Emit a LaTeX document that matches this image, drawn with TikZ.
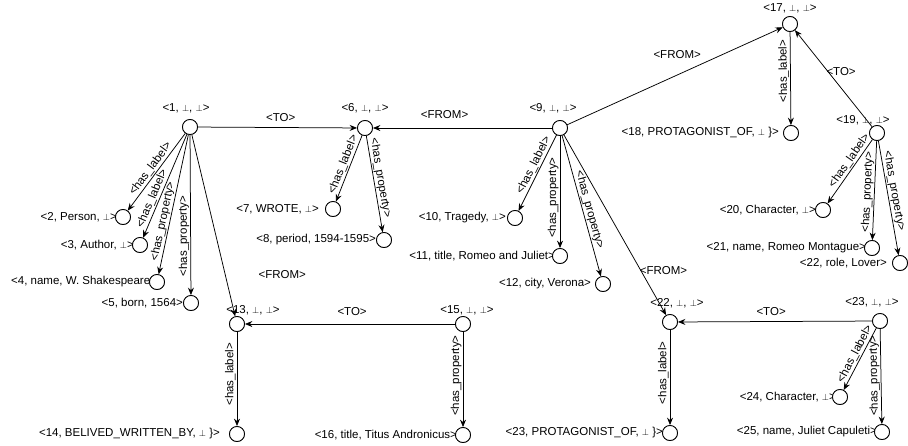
\documentclass[tikz,border=0pt]{standalone}
\usepackage{fontspec}
\setmainfont{Liberation Sans}
\usetikzlibrary{arrows.meta}
\newcommand{\bperp}{{\fontsize{9}{9}\selectfont$\perp$}}
\begin{document}
\begin{tikzpicture}[x=1pt,y=-1pt,
  font=\fontsize{11.5}{13}\selectfont,
  v/.style={circle, draw, fill=white, minimum size=15pt, inner sep=0pt, line width=0.8pt},
  tl/.style={inner sep=1pt},
  tip/.tip={Stealth[length=7.5pt,width=6pt,inset=2.5pt]},
  e/.style={-tip, line width=0.75pt},
  re/.style={tip-, line width=0.75pt},
  el/.style={sloped, allow upside down, above, inner sep=1pt},
  pl/.style={inner sep=1pt}
]
\useasboundingbox (0,0) rectangle (908,445);

% hub nodes
\node[v, label={[tl,xshift=-4pt,label distance=5pt]above:{<1, \bperp, \bperp>}}] (n1) at (190,127) {};
\node[v, label={[tl,xshift=0pt,label distance=6pt]above:{<6, \bperp, \bperp>}}] (n6) at (365,128) {};
\node[v, label={[tl,xshift=-7pt,label distance=5.5pt]above:{<9, \bperp, \bperp>}}] (n9) at (560,128) {};
\node[v, label={[tl,xshift=16pt,label distance=0pt]above:{<13, \bperp, \bperp>}}] (n13) at (237,324) {};
\node[v, label={[tl,xshift=4pt,label distance=0pt]above:{<15, \bperp, \bperp>}}] (n15) at (463,324) {};
\node[v, label={[tl,xshift=0pt,label distance=1.5pt]above:{<17, \bperp, \bperp>}}] (n17) at (790,24) {};
\node[v, label={[tl,xshift=-14pt,label distance=-1.5pt]above:{<19, \bperp, \bperp>}}] (n19) at (877,133) {};
\node[v, label={[tl,xshift=7pt,label distance=5pt]above:{<22, \bperp, \bperp>}}] (n22) at (670,322) {};
\node[v, label={[tl,xshift=-8pt,label distance=4.5pt]above:{<23, \bperp, \bperp>}}] (n23) at (880,321) {};

% leaf nodes
\node[v, label={[tl,label distance=-3pt]left:{<2, Person, \bperp>}}] (n2) at (123,217) {};
\node[v, label={[tl,label distance=-3pt]left:{<3, Author, \bperp>}}] (n3) at (140,245) {};
\node[v, label={[tl,label distance=-9pt]left:{<4, name, W. Shakespeare>}}] (n4) at (157,282) {};
\node[v, label={[tl,label distance=-1pt]left:{<5, born, 1564>}}] (n5) at (191,303) {};
\node[v, label={[tl,label distance=5pt]left:{<7, WROTE, \bperp>}}] (n7) at (333,209) {};
\node[v, label={[tl,label distance=-1pt]left:{<8, period, 1594-1595>}}] (n8) at (384,240) {};
\node[v, label={[tl,label distance=0pt]left:{<10, Tragedy, \bperp>}}] (n10) at (515,218) {};
\node[v, label={[tl,label distance=-4pt]left:{<11, title, Romeo and Juliet>}}] (n11) at (560,256) {};
\node[v, label={[tl,label distance=3pt]left:{<12, city, Verona>}}] (n12) at (603,284) {};
\node[v, label={[tl,label distance=8pt]left:{<14, BELIVED\_WRITTEN\_BY, \bperp\ \}>}}] (n14) at (237,434) {};
\node[v, label={[tl,label distance=-3pt]left:{<16, title, Titus Andronicus>}}] (n16) at (463,435) {};
\node[v, label={[tl,label distance=3pt]left:{<18, PROTAGONIST\_OF, \bperp\ \}>}}] (n18) at (791,133) {};
\node[v, label={[tl,label distance=-2pt]left:{<20, Character, \bperp>}}] (n20) at (823,210) {};
\node[v, label={[tl,label distance=-3pt]left:{<21, name, Romeo Montague>}}] (n21) at (872,248) {};
\node[v, label={[tl,label distance=4pt]left:{<22, role, Lover>}}] (nRole) at (900,263) {};
\node[v, label={[tl,label distance=-2pt]left:{<23, PROTAGONIST\_OF, \bperp\ \}>}}] (n23b) at (670,433) {};
\node[v, label={[tl,label distance=-5pt]left:{<24, Character, \bperp>}}] (n24) at (840,397) {};
\node[v, label={[tl,label distance=-4pt]left:{<25, name, Juliet Capuleti>}}] (n25) at (882,432) {};

% node 1
\draw[re] (n2) -- node[el,pos=.49]{<has\_label>} (n1);
\draw[re] (n3) -- node[el,pos=.35]{<has\_label>} (n1);
\draw[re] (n4) -- node[el,pos=.37]{<has\_property>} (n1);
\draw[re] (n5) -- node[el,pos=.37]{<has\_property>} (n1);
\draw[e] (n1) -- node[pl,pos=.77,xshift=57pt]{<FROM>} (n13);
\draw[e] (n1) -- node[pl,pos=.52,yshift=10pt]{<TO>} (n6);
% node 6
\draw[re] (n7) -- node[el,pos=.52]{<has\_label>} (n6);
\draw[e] (n6) -- node[el,pos=.45]{<has\_property>} (n8);
% node 9
\draw[e] (n9) -- node[pl,pos=.6,yshift=13pt]{<FROM>} (n6);
\draw[e] (n9) -- node[pl,pos=.51,yshift=20pt]{<FROM>} (n17);
\draw[re] (n10) -- node[el,pos=.56]{<has\_label>} (n9);
\draw[re] (n11) -- node[el,pos=.45]{<has\_property>} (n9);
\draw[e] (n9) -- node[el,pos=.54]{<has\_property>} (n12);
\draw[e] (n9) -- node[pl,pos=.75,xshift=23pt]{<FROM>} (n22);
% node 17 / 19
\draw[re] (n18) -- node[el,pos=.58]{<has\_label>} (n17);
\draw[e] (n19) -- node[pl,pos=.57,xshift=13pt]{<TO>} (n17);
\draw[re] (n20) -- node[el,pos=.61]{<has\_label>} (n19);
\draw[re] (n21) -- node[el,pos=.48]{<has\_property>} (n19);
\draw[e] (n19) -- node[el,pos=.45]{<has\_property>} (nRole);
% node 13 / 15
\draw[re] (n14) -- node[el,pos=.55]{<has\_label>} (n13);
\draw[e] (n15) -- node[pl,pos=.49,yshift=12pt]{<TO>} (n13);
\draw[re] (n16) -- node[el,pos=.54]{<has\_property>} (n15);
% node 22 / 23
\draw[re] (n23b) -- node[el,pos=.55]{<has\_label>} (n22);
\draw[e] (n23) -- node[pl,pos=.52,yshift=10pt]{<TO>} (n22);
\draw[re] (n24) -- node[el,pos=.53]{<has\_label>} (n23);
\draw[re] (n25) -- node[el,pos=.51]{<has\_property>} (n23);

% circles on top of their labels
\foreach \n in {n1,n2,n3,n4,n5,n6,n7,n8,n9,n10,n11,n12,n13,n14,n15,n16,n17,n18,n19,n20,n21,nRole,n22,n23,n23b,n24,n25}
  \draw[line width=0.8pt, fill=white] (\n.center) circle (7.5pt);
\end{tikzpicture}
\end{document}
